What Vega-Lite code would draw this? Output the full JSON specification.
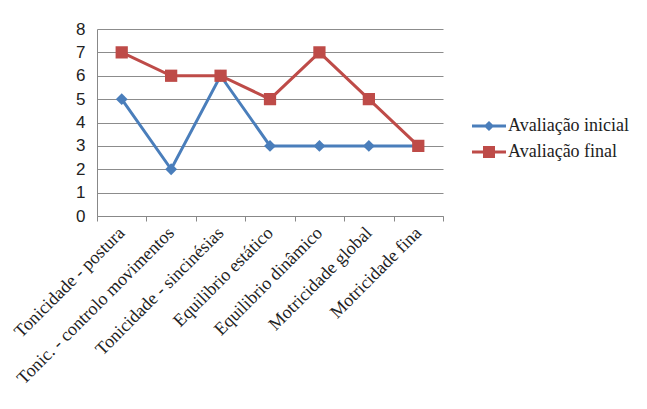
{
  "$schema": "https://vega.github.io/schema/vega-lite/v6.json",
  "width": 346,
  "height": 187,
  "autosize": {"type": "none"},
  "padding": {"left": 97, "top": 29, "right": 204, "bottom": 193},
  "background": "white",
  "config": {"view": {"stroke": null},
    "legend": {"labelFont": "Liberation Serif", "labelFontSize": 18, "labelColor": "#222", "rowPadding": -1}},
  "data": {"values": [
    {"cat": "Tonicidade - postura", "serie": "Avaliação inicial", "v": 5},
    {"cat": "Tonic. - controlo movimentos", "serie": "Avaliação inicial", "v": 2},
    {"cat": "Tonicidade - sincinésias", "serie": "Avaliação inicial", "v": 6},
    {"cat": "Equilibrio estático", "serie": "Avaliação inicial", "v": 3},
    {"cat": "Equilibrio dinâmico", "serie": "Avaliação inicial", "v": 3},
    {"cat": "Motricidade global", "serie": "Avaliação inicial", "v": 3},
    {"cat": "Motricidade fina", "serie": "Avaliação inicial", "v": 3},
    {"cat": "Tonicidade - postura", "serie": "Avaliação final", "v": 7},
    {"cat": "Tonic. - controlo movimentos", "serie": "Avaliação final", "v": 6},
    {"cat": "Tonicidade - sincinésias", "serie": "Avaliação final", "v": 6},
    {"cat": "Equilibrio estático", "serie": "Avaliação final", "v": 5},
    {"cat": "Equilibrio dinâmico", "serie": "Avaliação final", "v": 7},
    {"cat": "Motricidade global", "serie": "Avaliação final", "v": 5},
    {"cat": "Motricidade fina", "serie": "Avaliação final", "v": 3}
  ]},
  "encoding": {
    "x": {"field": "cat", "type": "nominal", "sort": null,
      "scale": {"type": "band", "paddingInner": 0, "paddingOuter": 0},
      "axis": {"title": null, "labelAngle": -45, "labelAlign": "right", "labelBaseline": "middle",
        "labelFont": "Liberation Serif", "labelFontSize": 18, "labelColor": "#222",
        "tickBand": "extent", "tickSize": 5, "tickColor": "#888", "domainColor": "#888",
        "labelPadding": 9, "grid": false, "labelLimit": 400, "labelOverlap": false}},
    "y": {"field": "v", "type": "quantitative",
      "scale": {"domain": [0, 8], "nice": false},
      "axis": {"title": null, "values": [0,1,2,3,4,5,6,7,8], "labelOverlap": false,
        "labelFont": "Liberation Sans", "labelFontSize": 17, "labelColor": "#222",
        "ticks": false, "labelPadding": 12, "domainColor": "#888",
        "gridColor": "#8c8c8c", "gridWidth": 1}}
  },
  "layer": [
    {"transform": [{"filter": "datum.serie === 'Avaliação inicial'"}],
     "mark": {"type": "line", "strokeWidth": 3, "color": "#4A7EBB"}},
    {"transform": [{"filter": "datum.serie === 'Avaliação final'"}],
     "mark": {"type": "line", "strokeWidth": 3, "color": "#BE4B48"}},
    {"transform": [{"filter": "datum.serie === 'Avaliação inicial'"}],
     "mark": {"type": "point", "filled": true, "opacity": 1, "shape": "diamond", "size": 140, "color": "#4A7EBB"}},
    {"transform": [{"filter": "datum.serie === 'Avaliação final'"}],
     "mark": {"type": "point", "filled": true, "opacity": 1, "shape": "square", "size": 150, "color": "#BE4B48"}},
    {"mark": {"type": "point", "filled": true, "opacity": 0, "size": 1156},
     "encoding": {
       "shape": {"field": "serie", "type": "nominal",
         "scale": {"domain": ["Avaliação inicial", "Avaliação final"],
           "range": ["M-1,-0.088H-0.212L0,-0.3L0.212,-0.088H1V0.088H0.212L0,0.3L-0.212,0.088H-1Z",
                     "M-1,-0.088H-0.353V-0.353H0.353V-0.088H1V0.088H0.353V0.353H-0.353V0.088H-1Z"]},
         "legend": {"orient": "none", "legendX": 375, "legendY": 80, "title": null,
           "symbolSize": 1156, "symbolOpacity": 1, "symbolStrokeWidth": 0,
           "labelFont": "Liberation Serif", "labelFontSize": 18, "labelColor": "#222",
           "rowPadding": -1, "labelOffset": 2,
           "encode": {"labels": {"update": {"font": {"value": "Liberation Serif"}, "fontSize": {"value": 18}}}}}},
       "color": {"field": "serie", "type": "nominal",
         "scale": {"domain": ["Avaliação inicial", "Avaliação final"], "range": ["#4A7EBB", "#BE4B48"]},
         "legend": {"orient": "none", "legendX": 375, "legendY": 80, "title": null,
           "symbolSize": 1156, "symbolOpacity": 1, "symbolStrokeWidth": 0,
           "labelFont": "Liberation Serif", "labelFontSize": 18, "labelColor": "#222",
           "rowPadding": -1, "labelOffset": 2,
           "encode": {"labels": {"update": {"font": {"value": "Liberation Serif"}, "fontSize": {"value": 18}}}}}}}}
  ]
}
